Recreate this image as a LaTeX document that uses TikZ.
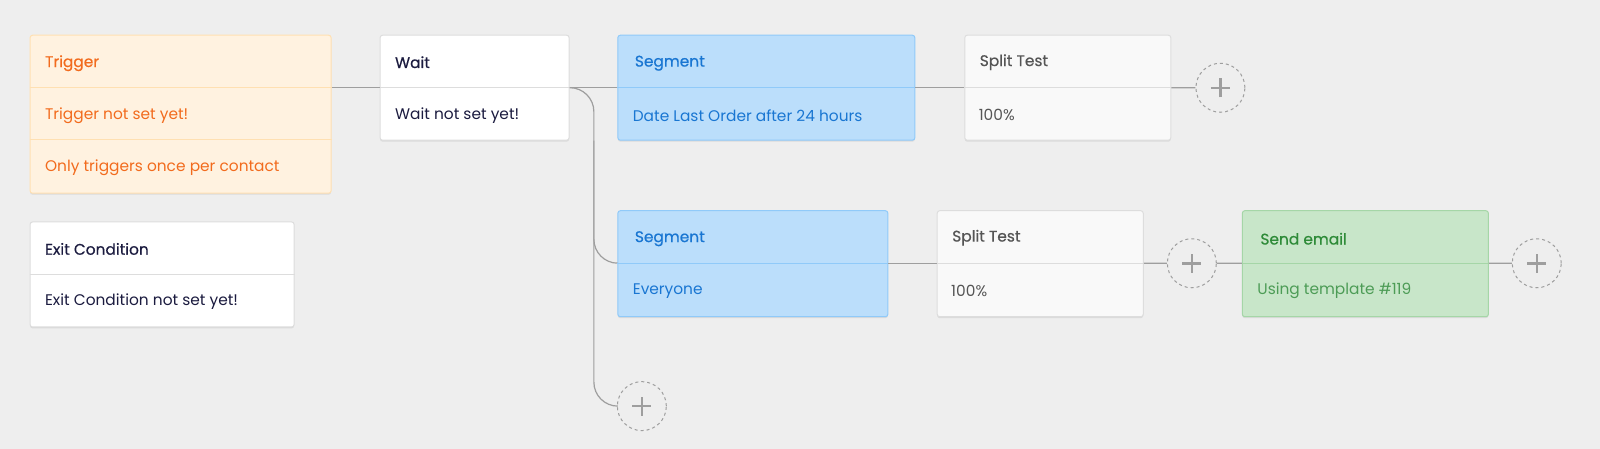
\documentclass[tikz,border=0pt]{standalone}
\usepackage{fontspec}
\setmainfont{Poppins}
\newfontfamily\tfont[FakeBold=0.5]{Poppins}
\usetikzlibrary{calc,shadows}
\definecolor{bg}{HTML}{EEEEEE}
\definecolor{trigfill}{HTML}{FFF2E0}
\definecolor{trigline}{HTML}{FFE0B2}
\definecolor{trigtext}{HTML}{F26B1D}
\definecolor{navy}{HTML}{1B1B3F}
\definecolor{greytext}{HTML}{555555}
\definecolor{wline}{HTML}{DDDDDD}
\definecolor{segfill}{HTML}{BBDEFB}
\definecolor{segline}{HTML}{90CAF9}
\definecolor{segtext}{HTML}{1976D2}
\definecolor{grfill}{HTML}{C8E6C9}
\definecolor{grline}{HTML}{A5D6A7}
\definecolor{grtext}{HTML}{2E8B38}
\definecolor{conncol}{HTML}{9E9E9E}
\definecolor{splitfill}{HTML}{F9F9F9}
\tikzset{
  card/.style={draw, rounded corners=2.5pt, line width=1pt, anchor=north west, inner sep=0pt,
    drop shadow={shadow xshift=0pt, shadow yshift=-1.5pt, fill=black!14, opacity=1}},
  whitecard/.style={card, fill=white, draw=wline},
  trigcard/.style={card, fill=trigfill, draw=trigline},
  segcard/.style={card, fill=segfill, draw=segline},
  splitcard/.style={card, fill=splitfill, draw=wline},
  greencard/.style={card, fill=grfill, draw=grline},
  lbl/.style={anchor=west, inner sep=0pt, yshift=-2pt, font=\fontsize{15.4}{18}\selectfont},
  ttl/.style={anchor=west, inner sep=0pt, yshift=-2pt, font=\tfont\fontsize{15.4}{18}\selectfont},
  conn/.style={draw=conncol, line width=1.2pt},
  plus/.style={circle, draw=conncol, line width=1pt, dash pattern=on 3pt off 3pt, minimum size=49pt, inner sep=0pt,
    path picture={\draw[conncol, line width=2.5pt, solid] (path picture bounding box.center) +(-9.5pt,0) -- +(9.5pt,0)
      (path picture bounding box.center) +(0,-9.5pt) -- +(0,9.5pt);}},
}
\begin{document}
\begin{tikzpicture}[x=1.0204pt,y=-1.0204pt]
\fill[bg] (0,0) rectangle (1568,440);
\useasboundingbox (0,0) rectangle (1568,440);

\coordinate (jx) at (582,0);

% cards
\node[trigcard, minimum width=301pt, minimum height=158pt] (trig) at (29,34) {};
\draw[trigline, line width=1pt] ([yshift=-53pt]trig.north west) -- ([yshift=-53pt]trig.north east)
  ([yshift=-105pt]trig.north west) -- ([yshift=-105pt]trig.north east);
\node[ttl, text=trigtext] (trigT) at (44,60) {Trigger};
\node[lbl, text=trigtext] (trigA) at (44,111) {Trigger not set yet!};
\node[lbl, text=trigtext] (trigB) at (44,162) {Only triggers once per contact};

\node[whitecard, minimum width=189pt, minimum height=105pt] (wait) at (372,34) {};
\node[ttl, text=navy] (waitT) at (387,59) {Wait};
\node[lbl, text=navy] (waitA) at (387,111) {Wait not set yet!};

\node[whitecard, minimum width=264pt, minimum height=105pt] (exit) at (29,217) {};
\draw[wline, line width=1pt] ([yshift=-53pt]exit.north west) -- ([yshift=-53pt]exit.north east);
\node[ttl, text=navy] (exitT) at (44,242) {Exit Condition};
\node[lbl, text=navy] (exitA) at (44,294) {Exit Condition not set yet!};

\node[segcard, minimum width=297pt, minimum height=105pt] (seg1) at (605,34) {};
\node[ttl, text=segtext] (seg1T) at (622,60) {Segment};
\node[lbl, text=segtext] (seg1A) at (620,111) {Date Last Order after 24 hours};

\node[splitcard, minimum width=206pt, minimum height=105pt] (sp1) at (945,34) {};
\node[ttl, text=greytext] (sp1T) at (960,59) {Split Test};
\node[lbl, text=greytext] (sp1A) at (959,111) {100\%};

\node[plus] (p1) at (1196,86) {};

\node[segcard, minimum width=270pt, minimum height=106pt] (seg2) at (605,206) {};
\node[ttl, text=segtext] (seg2T) at (622,232) {Segment};
\node[lbl, text=segtext] (seg2A) at (620,283) {Everyone};

\node[splitcard, minimum width=206pt, minimum height=106pt] (sp2) at (918,206) {};
\node[ttl, text=greytext] (sp2T) at (933,231) {Split Test};
\node[lbl, text=greytext] (sp2A) at (932,283) {100\%};

\node[plus] (p2) at (1168,258) {};

\node[greencard, minimum width=246pt, minimum height=106pt] (send) at (1217,206) {};
\node[ttl, text=grtext] (sendT) at (1235,232) {Send email};
\node[lbl, text=grtext!85] (sendA) at (1232,283) {Using template \#119};

\node[plus] (p3) at (1506,258) {};
\node[plus] (p4) at (629,398) {};

% connectors
\draw[conn] ([yshift=-53pt]trig.north east) -- ([yshift=-53pt]wait.north west);
\draw[wline, line width=1pt] ([yshift=-53pt]wait.north west) -- ([yshift=-53pt]wait.north east);
\draw[conn] ([yshift=-53pt]wait.north east) -- ([yshift=-53pt]seg1.north west);
\draw[segline, line width=1pt] ([yshift=-53pt]seg1.north west) -- ([yshift=-53pt]seg1.north east);
\draw[conn] ([yshift=-53pt]seg1.north east) -- ([yshift=-53pt]sp1.north west);
\draw[wline, line width=1pt] ([yshift=-53pt]sp1.north west) -- ([yshift=-53pt]sp1.north east);
\draw[conn] ([yshift=-53pt]sp1.north east) -- (p1.west);
\draw[conn, rounded corners=24pt] ([yshift=-53pt]wait.north east) -| (jx |- p4.west) -- (p4.west);
\draw[conn, rounded corners=24pt] (jx |- seg1.south) |- ([yshift=-53pt]seg2.north west);
\draw[segline, line width=1pt] ([yshift=-53pt]seg2.north west) -- ([yshift=-53pt]seg2.north east);
\draw[conn] ([yshift=-53pt]seg2.north east) -- ([yshift=-53pt]sp2.north west);
\draw[wline, line width=1pt] ([yshift=-53pt]sp2.north west) -- ([yshift=-53pt]sp2.north east);
\draw[conn] ([yshift=-53pt]sp2.north east) -- (p2.west);
\draw[conn] (p2.east) -- ([yshift=-53pt]send.north west);
\draw[grline, line width=1pt] ([yshift=-53pt]send.north west) -- ([yshift=-53pt]send.north east);
\draw[conn] ([yshift=-53pt]send.north east) -- (p3.west);
\end{tikzpicture}
\end{document}
